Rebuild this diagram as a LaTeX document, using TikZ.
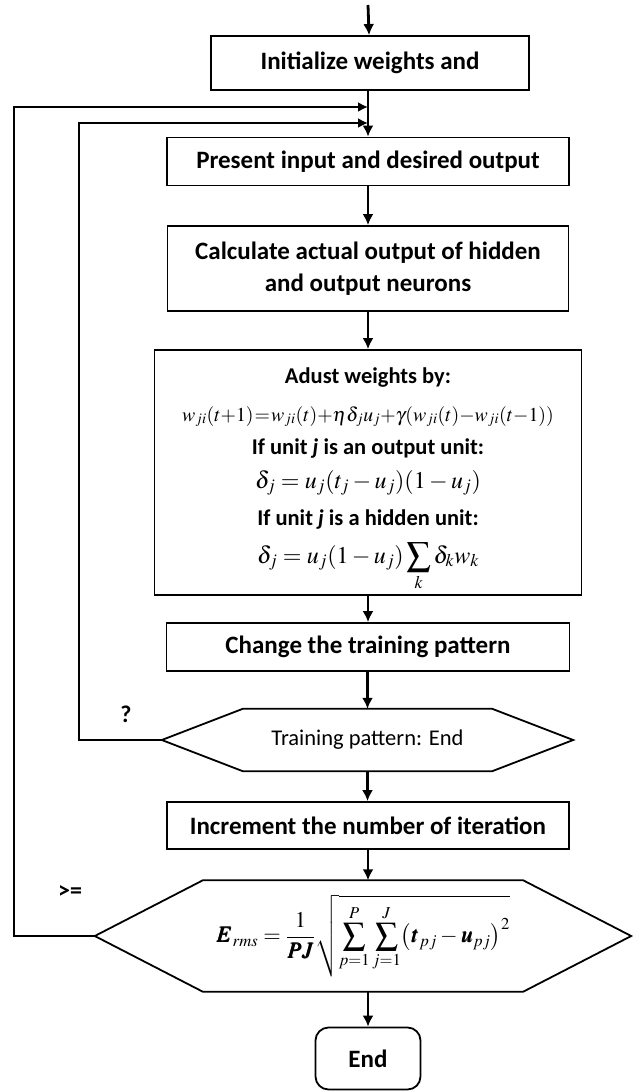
\documentclass[tikz,border=0pt]{standalone}
\usepackage{amsmath}
\usepackage{mathptmx}
\usepackage{bm}
\usepackage[no-math]{fontspec}
\setmainfont{Carlito}
\usetikzlibrary{arrows.meta,calc}
\tikzset{
  flowbox/.style={draw,line width=1.8pt,rectangle,align=center,inner sep=0pt,
                  font=\fontsize{25}{32}\selectfont\bfseries},
  hexbox/.style={inner sep=0pt,align=center},
  flowarrow/.style={-{Latex[length=11pt,width=11pt]},line width=2.8pt},
  loopline/.style={-{Latex[length=10pt,width=10pt]},line width=2.4pt},
  condlabel/.style={font=\fontsize{24}{28}\selectfont\bfseries},
}
\newcommand{\drawhex}[2]{%
  \draw[line width=1.8pt,line join=miter] (#1.west) -- ([xshift=#2]#1.north west)
    -- ([xshift=-#2]#1.north east) -- (#1.east) -- ([xshift=-#2]#1.south east)
    -- ([xshift=#2]#1.south west) -- cycle;}

\begin{document}
\begin{tikzpicture}[x=1pt,y=-1pt]
  \useasboundingbox (0,0) rectangle (632,1091);
  \coordinate (start) at (368,5);
  \coordinate (inB) at (368,107);
  \coordinate (inA) at (368,123);

  \node[flowbox,minimum width=318pt,minimum height=54pt] (init) at (370,63)
    {Initialize weights and};
  \node[flowbox,minimum width=402pt,minimum height=48pt] (present) at (368,161.5)
    {Present input and desired output};
  \node[flowbox,minimum width=401pt,minimum height=85pt] (calc) at (368,268.5)
    {Calculate actual output of hidden\\and output neurons};
  \node[flowbox,minimum width=427pt,minimum height=245pt] (adjust) at (368,472.5) {};
  \foreach \y/\t [count=\i] in {
      383/{\fontsize{22.5}{26}\selectfont\bfseries Adust weights by:},
      421/{\fontsize{19.8}{24}\selectfont$\medmuskip=0mu\thickmuskip=1mu
           w_{ji}(t+1)=w_{ji}(t)+\eta\delta_j u_j+\gamma(w_{ji}(t)-w_{ji}(t-1))$},
      454/{\fontsize{22.5}{26}\selectfont\bfseries If unit \textit{j} is an output unit:},
      488/{\fontsize{24}{28}\selectfont$\delta_j=u_j(t_j-u_j)(1-u_j)$},
      525/{\fontsize{22.5}{26}\selectfont\bfseries If unit \textit{j} is a hidden unit:},
      563/{\fontsize{24}{28}\selectfont$\displaystyle\delta_j=u_j(1-u_j)\sum_k\delta_k w_k$}}{
    \node[anchor=base,inner sep=0pt] (line\i) at (368,\y) {\t};
  }
  \node[flowbox,minimum width=403pt,minimum height=48pt] (change) at (368,647)
    {Change the training pattern};
  \node[hexbox,minimum width=411pt,minimum height=62pt,
        font=\fontsize{22.5}{26}\selectfont] (tp) at (367.5,740)
    {Training pattern: End};
  \drawhex{tp}{81pt}
  \node[flowbox,minimum width=402pt,minimum height=47pt] (increment) at (368,825.5)
    {Increment the number of iteration};
  \node[hexbox,minimum width=536pt,minimum height=111pt,
        font=\fontsize{22.5}{27}\selectfont] (err) at (363,936)
    {$\displaystyle\bm{E}_{rms}=\frac{1}{\bm{PJ}}\sqrt{\sum_{p=1}^{P}\sum_{j=1}^{J}
      \bigl(\bm{t}_{pj}-\bm{u}_{pj}\bigr)^{2}}$};
  \drawhex{err}{108pt}
  \node[flowbox,rounded corners=13pt,minimum width=105pt,minimum height=62pt]
    (finish) at (368,1058.5) {End};
  \node[condlabel] (qmark) at (126,714) {?};
  \node[condlabel] (geq) at (70,892) {>=};

  \draw[flowarrow] (start) -- (init);
  \draw[flowarrow] (init.south -| present) -- (present);
  \draw[flowarrow] (present) -- (calc);
  \draw[flowarrow] (calc) -- (adjust);
  \draw[flowarrow] (adjust) -- (change);
  \draw[flowarrow] (change.south -| tp) -- (tp.north);
  \draw[flowarrow] (tp.south) -- (tp.south |- increment.north);
  \draw[flowarrow] (increment.south) -- (increment.south |- err.north);
  \draw[flowarrow] (err.south -| finish) -- (finish);
  \draw[loopline] (tp.west) -- ++(-83,0) |- (inA);
  \draw[loopline] (err.west) -- ++(-81,0) |- (inB);
\end{tikzpicture}
\end{document}
